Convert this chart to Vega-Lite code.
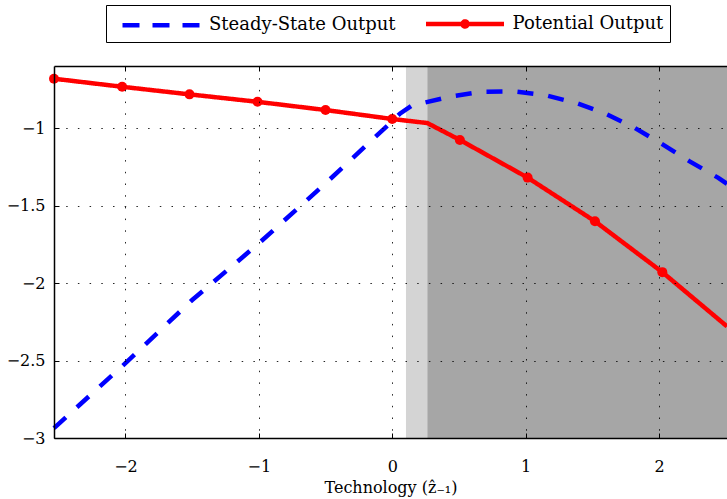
{
  "$schema": "https://vega.github.io/schema/vega-lite/v6.json",
  "width": 673,
  "height": 372,
  "autosize": "none",
  "padding": {"left": 54, "top": 66, "right": 0, "bottom": 61},
  "background": "white",
  "config": {
    "font": "DejaVu Serif",
    "view": {"stroke": null},
    "axis": {
      "labelFont": "DejaVu Serif",
      "labelFontSize": 16,
      "labelColor": "black",
      "titleFont": "DejaVu Serif",
      "titleFontSize": 16,
      "titleFontWeight": "normal",
      "titleColor": "black",
      "domainColor": "black",
      "domainWidth": 1.5,
      "tickColor": "black",
      "tickWidth": 1,
      "gridColor": "black",
      "gridOpacity": 0.85,
      "gridWidth": 1,
      "gridDash": [1.5, 10.2]
    },
    "legend": {
      "labelFont": "DejaVu Serif",
      "labelFontSize": 18,
      "labelColor": "black",
      "labelLimit": 0
    }
  },
  "datasets": {
    "regions": [
      {"x": 0.103, "x2": 0.263, "kind": "light"},
      {"x": 0.263, "x2": 2.51, "kind": "dark"}
    ],
    "lines": [
      {"series": "Steady-State Output", "x": -2.536, "y": -2.936},
      {"series": "Steady-State Output", "x": -2.0, "y": -2.517},
      {"series": "Steady-State Output", "x": -1.5, "y": -2.11},
      {"series": "Steady-State Output", "x": -1.0, "y": -1.744},
      {"series": "Steady-State Output", "x": -0.5, "y": -1.357},
      {"series": "Steady-State Output", "x": 0.0, "y": -0.956},
      {"series": "Steady-State Output", "x": 0.06, "y": -0.906},
      {"series": "Steady-State Output", "x": 0.145, "y": -0.856},
      {"series": "Steady-State Output", "x": 0.433, "y": -0.798},
      {"series": "Steady-State Output", "x": 0.672, "y": -0.766},
      {"series": "Steady-State Output", "x": 0.913, "y": -0.764},
      {"series": "Steady-State Output", "x": 1.15, "y": -0.789},
      {"series": "Steady-State Output", "x": 1.38, "y": -0.839},
      {"series": "Steady-State Output", "x": 1.6, "y": -0.908},
      {"series": "Steady-State Output", "x": 1.82, "y": -1.0},
      {"series": "Steady-State Output", "x": 2.03, "y": -1.107},
      {"series": "Steady-State Output", "x": 2.23, "y": -1.215},
      {"series": "Steady-State Output", "x": 2.445, "y": -1.322},
      {"series": "Steady-State Output", "x": 2.51, "y": -1.36},
      {"series": "Potential Output", "x": -2.536, "y": -0.682},
      {"series": "Potential Output", "x": -2.025, "y": -0.734},
      {"series": "Potential Output", "x": -1.52, "y": -0.783},
      {"series": "Potential Output", "x": -1.01, "y": -0.831},
      {"series": "Potential Output", "x": -0.5, "y": -0.884},
      {"series": "Potential Output", "x": 0.0, "y": -0.942},
      {"series": "Potential Output", "x": 0.263, "y": -0.968},
      {"series": "Potential Output", "x": 0.507, "y": -1.077},
      {"series": "Potential Output", "x": 1.015, "y": -1.32},
      {"series": "Potential Output", "x": 1.52, "y": -1.602},
      {"series": "Potential Output", "x": 2.025, "y": -1.93},
      {"series": "Potential Output", "x": 2.51, "y": -2.28}
    ],
    "markers": [
      {"x": -2.536, "y": -0.682},
      {"x": -2.025, "y": -0.734},
      {"x": -1.52, "y": -0.783},
      {"x": -1.01, "y": -0.831},
      {"x": -0.5, "y": -0.884},
      {"x": 0.0, "y": -0.942},
      {"x": 0.507, "y": -1.077},
      {"x": 1.015, "y": -1.32},
      {"x": 1.52, "y": -1.602},
      {"x": 2.025, "y": -1.93}
    ]
  },
  "resolve": {"axis": {"x": "independent", "y": "independent"}, "scale": {"color": "independent"}, "legend": {"color": "independent"}},
  "layer": [
    {
      "data": {"name": "regions"},
      "mark": {"type": "rect"},
      "encoding": {
        "x": {"field": "x", "type": "quantitative", "scale": {"domain": [-2.536, 2.51], "nice": false, "zero": false},
          "axis": {"orient": "top", "values": [-2, -1, 0, 1, 2], "labels": false, "grid": false, "title": null, "tickSize": -5, "zindex": 1}},
        "x2": {"field": "x2"},
        "color": {"field": "kind", "type": "nominal", "scale": {"domain": ["light", "dark"], "range": ["#d4d4d4", "#a6a6a6"]}, "legend": null}
      }
    },
    {
      "data": {"name": "lines"},
      "mark": {"type": "line", "strokeWidth": 4.5, "strokeCap": "butt"},
      "encoding": {
        "x": {"field": "x", "type": "quantitative",
          "axis": {"values": [-2, -1, 0, 1, 2], "format": "~g", "grid": true, "tickSize": -5, "labelPadding": 25, "title": "Technology (ẑ₋₁)", "titlePadding": 5, "zindex": 1}},
        "y": {"field": "y", "type": "quantitative", "scale": {"domain": [-3, -0.6], "nice": false, "zero": false},
          "axis": {"values": [-3, -2.5, -2, -1.5, -1], "format": "~g", "grid": true, "tickSize": -5, "labelPadding": 14, "title": null, "zindex": 1}},
        "color": {"field": "series", "type": "nominal",
          "scale": {"domain": ["Steady-State Output", "Potential Output"], "range": ["#0000ff", "#ff0000"]},
          "legend": {
            "title": null, "orient": "none", "legendX": 52, "legendY": -61, "direction": "horizontal",
            "fillColor": "white", "strokeColor": "black", "padding": 6.5,
            "symbolType": "M-0.25,0H7.55", "symbolSize": 400, "symbolStrokeWidth": 4.5,
            "labelOffset": 71.5, "columnPadding": 19.5, "labelLimit": 0,
            "encode": {"symbols": {"update": {
              "shape": {"signal": "datum.value === 'Potential Output' ? 'M-0.25,0H7.55M3.4,0a0.25,0.25 0 1,0 0.5,0a0.25,0.25 0 1,0 -0.5,0' : 'M-0.25,0H7.55'"},
              "strokeDash": {"signal": "datum.value === 'Steady-State Output' ? [17, 13] : [1, 0]"}
            }}}
          }},
        "strokeDash": {"field": "series", "type": "nominal", "legend": null,
          "scale": {"domain": ["Steady-State Output", "Potential Output"], "range": [[16, 15], [1, 0]]}}
      }
    },
    {
      "data": {"name": "markers"},
      "mark": {"type": "point", "filled": true, "size": 100, "opacity": 1, "color": "#ff0000"},
      "encoding": {
        "x": {"field": "x", "type": "quantitative", "axis": null},
        "y": {"field": "y", "type": "quantitative", "axis": null}
      }
    }
  ]
}
